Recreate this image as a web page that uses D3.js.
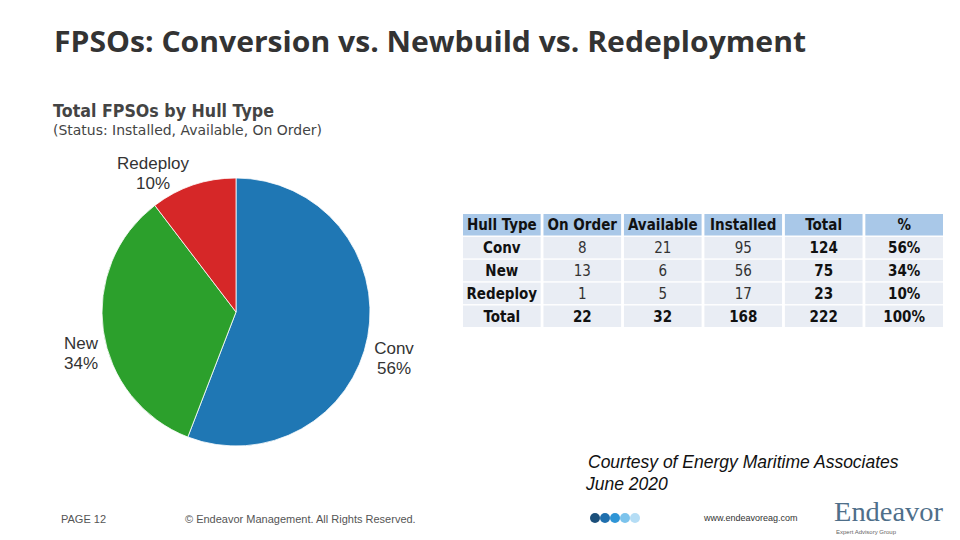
<!DOCTYPE html>
<html>
<head>
<meta charset="utf-8">
<script src="https://cdn.jsdelivr.net/npm/d3@7"></script>
<style>
  body { margin: 0; background: #fff; }
  svg { display: block; }
</style>
</head>
<body>
<svg id="chart" width="960" height="540"></svg>
<script>
const hullTypes = ['Conv', 'New', 'Redeploy'];
const onOrder = [8, 13, 1];
const available = [21, 6, 5];
const installed = [95, 56, 17];
const columns = ['Hull Type', 'On Order', 'Available', 'Installed', 'Total', '%'];
const sliceColors = ['#1f77b4', '#2ca02c', '#d62728'];

const totals = hullTypes.map((d, i) => onOrder[i] + available[i] + installed[i]);
const grand = d3.sum(totals);
const pct = v => Math.round(v / grand * 100) + '%';

const svg = d3.select('#chart');

// slide title
svg.append('text')
    .attr('x', 54).attr('y', 52)
    .attr('fill', '#333')
    .attr('font-family', 'Open Sans, sans-serif')
    .attr('font-weight', 'bold')
    .attr('font-size', 28)
    .attr('textLength', 752)
    .attr('lengthAdjust', 'spacingAndGlyphs')
    .text('FPSOs: Conversion vs. Newbuild vs. Redeployment');

// chart title
svg.append('text')
    .attr('x', 53).attr('y', 117)
    .attr('fill', '#444')
    .attr('font-family', 'DejaVu Sans, sans-serif')
    .attr('font-weight', 'bold')
    .attr('font-size', 18)
    .attr('textLength', 221)
    .attr('lengthAdjust', 'spacingAndGlyphs')
    .text('Total FPSOs by Hull Type');

svg.append('text')
    .attr('x', 53).attr('y', 135)
    .attr('fill', '#444')
    .attr('font-family', 'DejaVu Sans, sans-serif')
    .attr('font-size', 14)
    .attr('textLength', 269)
    .attr('lengthAdjust', 'spacingAndGlyphs')
    .text('(Status: Installed, Available, On Order)');

// pie
const r = 134;
const pieG = svg.append('g').attr('transform', 'translate(236,312)');
const pie = d3.pie().sort(null).value(d => d);
const arc = d3.arc().innerRadius(0).outerRadius(r);
const arcs = pie(totals);

pieG.selectAll('path')
    .data(arcs)
    .join('path')
    .attr('d', arc)
    .attr('fill', (d, i) => sliceColors[i])
    .attr('stroke', '#fff')
    .attr('stroke-width', 0.8);

// slice labels
const labelPos = [[394, 354], [81, 349], [153, 169]];
arcs.forEach((a, i) => {
    const t = svg.append('text')
        .attr('x', labelPos[i][0]).attr('y', labelPos[i][1])
        .attr('text-anchor', 'middle')
        .attr('fill', '#333')
        .attr('font-family', 'Liberation Sans, Arial, sans-serif')
        .attr('font-size', 17);
    t.append('tspan').attr('x', labelPos[i][0]).text(hullTypes[i]);
    t.append('tspan').attr('x', labelPos[i][0]).attr('dy', 20).text(pct(totals[i]));
});

// table
const rows = hullTypes.map((h, i) => [h, onOrder[i], available[i], installed[i], totals[i], pct(totals[i])]);
rows.push(['Total', d3.sum(onOrder), d3.sum(available), d3.sum(installed), grand, '100%']);

const colX = d3.scaleBand().domain(columns).range([463, 943]).paddingInner(0.035);
const rowY = d3.scaleBand().domain(d3.range(rows.length + 1)).range([214, 327]).paddingInner(0.06);
const cellFont = 'DejaVu Sans Condensed, DejaVu Sans, Verdana, sans-serif';

const tbl = svg.append('g');
tbl.selectAll('rect.head')
    .data(columns)
    .join('rect')
    .attr('x', d => colX(d)).attr('y', rowY(0))
    .attr('width', colX.bandwidth()).attr('height', rowY.bandwidth())
    .attr('fill', '#a9c8e8');

tbl.selectAll('text.head')
    .data(columns)
    .join('text')
    .attr('x', d => colX(d) + colX.bandwidth() / 2)
    .attr('y', rowY(0) + rowY.bandwidth() / 2 + 5.5)
    .attr('text-anchor', 'middle')
    .attr('font-family', cellFont)
    .attr('font-weight', 'bold')
    .attr('font-size', 15)
    .attr('fill', '#111')
    .text(d => d);

rows.forEach((row, ri) => {
    const y = rowY(ri + 1);
    row.forEach((v, ci) => {
        const c = columns[ci];
        tbl.append('rect')
            .attr('x', colX(c)).attr('y', y)
            .attr('width', colX.bandwidth()).attr('height', rowY.bandwidth())
            .attr('fill', '#e9edf4');
        const bold = ci === 0 || ci >= 4 || ri === rows.length - 1;
        tbl.append('text')
            .attr('x', colX(c) + colX.bandwidth() / 2)
            .attr('y', y + rowY.bandwidth() / 2 + 5.5)
            .attr('text-anchor', 'middle')
            .attr('font-family', cellFont)
            .attr('font-weight', bold ? 'bold' : 'normal')
            .attr('font-size', 15)
            .attr('fill', bold ? '#111' : '#333')
            .text(v);
    });
});

// source note
const note = svg.append('text')
    .attr('font-family', 'Liberation Sans, Arial, sans-serif')
    .attr('font-style', 'italic')
    .attr('font-size', 17.5)
    .attr('fill', '#111');
note.append('tspan').attr('x', 588).attr('y', 468).text('Courtesy of Energy Maritime Associates');
note.append('tspan').attr('x', 586).attr('y', 490).text('June 2020');

// footer
const foot = svg.append('g')
    .attr('font-family', 'Liberation Sans, Arial, sans-serif')
    .attr('fill', '#555');
foot.append('text').attr('x', 61).attr('y', 523).attr('font-size', 11).text('PAGE 12');
foot.append('text').attr('x', 185).attr('y', 523).attr('font-size', 11)
    .text('\u00A9 Endeavor Management. All Rights Reserved.');
foot.append('text').attr('x', 704).attr('y', 521).attr('font-size', 9).attr('fill', '#333')
    .text('www.endeavoreag.com');

const dotColors = ['#1b4f7a', '#1f6fae', '#2f95d6', '#7cc3ec', '#b5ddf5'];
svg.append('g').selectAll('circle')
    .data(dotColors)
    .join('circle')
    .attr('cx', (d, i) => 595 + i * 10)
    .attr('cy', 518)
    .attr('r', 5)
    .attr('fill', d => d);

svg.append('text')
    .attr('x', 834).attr('y', 521)
    .attr('font-family', 'Liberation Serif, serif')
    .attr('font-size', 27)
    .attr('fill', '#4f6f8a')
    .attr('textLength', 109)
    .attr('lengthAdjust', 'spacingAndGlyphs')
    .text('Endeavor');
svg.append('text')
    .attr('x', 836).attr('y', 534)
    .attr('font-family', 'Liberation Sans, Arial, sans-serif')
    .attr('font-size', 6)
    .attr('fill', '#666')
    .text('Expert Advisory Group');
</script>
</body>
</html>
